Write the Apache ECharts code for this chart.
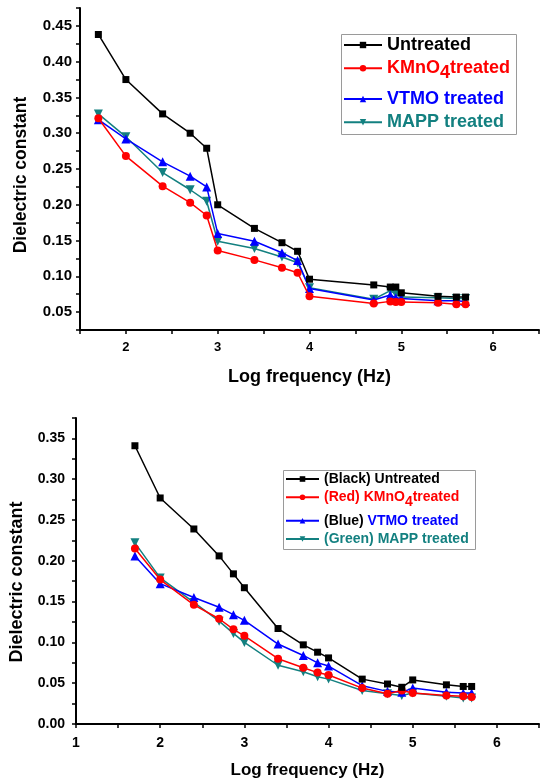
<!DOCTYPE html>
<html>
<head>
<meta charset="utf-8">
<script src="https://cdn.jsdelivr.net/npm/echarts@6/dist/echarts.min.js"></script>
<style>
html,body{margin:0;padding:0;background:#fff;}
#chart{width:542px;height:783px;}
</style>
</head>
<body>
<div id="chart"></div>
<script>
// ---------- DATA ----------
const freqTop = [1.7, 2, 2.4, 2.7, 2.88, 3, 3.4, 3.7, 3.87, 4, 4.7, 4.88, 4.94, 5, 5.4, 5.6, 5.7];
const untreatedTop = [0.438, 0.375, 0.327, 0.300, 0.279, 0.200, 0.167, 0.147, 0.135, 0.096, 0.088, 0.085, 0.085, 0.077, 0.072, 0.071, 0.071];
const kmno4Top = [0.321, 0.268, 0.226, 0.203, 0.185, 0.136, 0.123, 0.112, 0.105, 0.072, 0.062, 0.065, 0.064, 0.064, 0.063, 0.061, 0.061];
const vtmoTop = [0.319, 0.292, 0.260, 0.240, 0.225, 0.160, 0.149, 0.133, 0.122, 0.083, 0.067, 0.074, 0.070, 0.069, 0.066, 0.066, 0.065];
const mappTop = [0.327, 0.295, 0.245, 0.221, 0.205, 0.149, 0.139, 0.127, 0.119, 0.084, 0.068, 0.080, 0.075, 0.071, 0.070, 0.069, 0.069];

const freqBot = [1.7, 2, 2.4, 2.7, 2.87, 3, 3.4, 3.7, 3.87, 4, 4.4, 4.7, 4.87, 5, 5.4, 5.6, 5.7];
const untreatedBot = [0.341, 0.277, 0.239, 0.206, 0.184, 0.167, 0.117, 0.097, 0.088, 0.081, 0.055, 0.049, 0.045, 0.054, 0.048, 0.046, 0.046];
const kmno4Bot = [0.215, 0.177, 0.146, 0.129, 0.116, 0.108, 0.080, 0.069, 0.063, 0.060, 0.044, 0.037, 0.041, 0.038, 0.035, 0.034, 0.033];
const vtmoBot = [0.206, 0.172, 0.155, 0.143, 0.134, 0.127, 0.098, 0.084, 0.075, 0.071, 0.047, 0.040, 0.039, 0.044, 0.039, 0.038, 0.038];
const mappBot = [0.222, 0.179, 0.149, 0.126, 0.111, 0.100, 0.072, 0.064, 0.058, 0.055, 0.041, 0.037, 0.035, 0.038, 0.034, 0.032, 0.032];

const xTicksTop = [2, 3, 4, 5, 6];
const yTicksTop = [0.05, 0.10, 0.15, 0.20, 0.25, 0.30, 0.35, 0.40, 0.45];
const xTicksBot = [1, 2, 3, 4, 5, 6];
const yTicksBot = [0.00, 0.05, 0.10, 0.15, 0.20, 0.25, 0.30, 0.35];

const namesTop = ['Untreated', 'KMnO4treated', 'VTMO treated', 'MAPP treated'];
const namesBot = ['(Black) Untreated', '(Red) KMnO4treated', '(Blue) VTMO treated', '(Green) MAPP treated'];
const xTitle = 'Log frequency (Hz)';
const yTitle = 'Dielectric constant';

// ---------- STYLE ----------
const FONT = '"Liberation Sans", Arial, sans-serif';
const BLACK = '#000000', RED = '#ff0000', BLUE = '#0000ff', TEAL = '#138080';
const colors = [BLACK, RED, BLUE, TEAL];
const symbols = ['rect', 'circle', 'triangle', 'triangle'];
const symSizes = [7, 8, 9, 9];
const symRot = [0, 0, 0, 180];

function zip(xs, ys) { return xs.map((x, i) => [x, ys[i]]); }
function tickFmt(list, digits) {
  return function (v) {
    return list.some(t => Math.abs(t - v) < 1e-6) ? v.toFixed(digits) : '';
  };
}

function axisCommon(fs) {
  return {
    axisLine: { show: true, onZero: false, lineStyle: { color: '#000', width: 2 } },
    axisTick: { show: true, inside: false, length: 4, lineStyle: { color: '#000', width: 1.5 } },
    splitLine: { show: false },
    axisLabel: { color: '#000', fontWeight: 'bold', fontFamily: FONT, fontSize: fs },
    nameTextStyle: { color: '#000', fontWeight: 'bold', fontFamily: FONT }
  };
}

function mkAxisX(idx, min, max, ticks, fs, nameFs, margin, gap) {
  const c = axisCommon(fs);
  return Object.assign(c, {
    type: 'value', gridIndex: idx, min: min, max: max, interval: 0.5,
    axisLabel: Object.assign(c.axisLabel, { formatter: tickFmt(ticks, 0), margin: margin }),
    name: xTitle, nameLocation: 'middle', nameGap: gap,
    nameTextStyle: Object.assign(c.nameTextStyle, { fontSize: nameFs })
  });
}
function mkAxisY(idx, min, max, ticks, fs, nameFs, margin, gap, shiftPad) {
  const c = axisCommon(fs);
  return Object.assign(c, {
    type: 'value', gridIndex: idx, min: min, max: max, interval: 0.025,
    axisLabel: Object.assign(c.axisLabel, { formatter: tickFmt(ticks, 2), margin: margin }),
    name: yTitle, nameLocation: 'middle', nameRotate: 90, nameGap: gap,
    nameTextStyle: Object.assign(c.nameTextStyle, { fontSize: nameFs, padding: [0, shiftPad, 0, 0] })
  });
}

const dataTop = [untreatedTop, kmno4Top, vtmoTop, mappTop];
const dataBot = [untreatedBot, kmno4Bot, vtmoBot, mappBot];

const series = [];
function addSeries(names, xs, ys, idx) {
  names.forEach((n, i) => {
    series.push({
      name: n, type: 'line', xAxisIndex: idx, yAxisIndex: idx,
      data: zip(xs, ys[i]),
      symbol: symbols[i], symbolSize: symSizes[i], symbolRotate: symRot[i],
      showSymbol: true, showAllSymbol: true,
      lineStyle: { color: colors[i], width: 1.5 },
      itemStyle: { color: colors[i], borderWidth: 0 },
      emphasis: { disabled: true },
      z: 10 - i
    });
  });
}
addSeries(namesTop, freqTop, dataTop, 0);
addSeries(namesBot, freqBot, dataBot, 1);

// legend label rich text
const legendText = {
  'Untreated': '{k|Untreated}',
  'KMnO4treated': '{r|KMnO}{rs|4}{r|treated}',
  'VTMO treated': '{b|VTMO treated}',
  'MAPP treated': '{t|MAPP treated}',
  '(Black) Untreated': '{k|(Black) Untreated}',
  '(Red) KMnO4treated': '{r|(Red) KMnO}{rs|4}{r|treated}',
  '(Blue) VTMO treated': '{k|(Blue)}{b| VTMO treated}',
  '(Green) MAPP treated': '{t|(Green) MAPP treated}'
};
function richSet(fs, lh, subPad) {
  const base = { fontSize: fs, fontWeight: 'bold', fontFamily: FONT, lineHeight: lh, verticalAlign: 'middle' };
  return {
    k: Object.assign({}, base, { color: BLACK }),
    r: Object.assign({}, base, { color: RED }),
    rs: Object.assign({}, base, { color: RED, padding: [subPad, 0, 0, 0] }),
    b: Object.assign({}, base, { color: BLUE }),
    t: Object.assign({}, base, { color: TEAL })
  };
}

const legends = [];
const topCenters = [45, 68.3, 99, 122.3];
const botCenters = [479, 497.3, 520.7, 539];
namesTop.forEach((n, i) => {
  const sub = n.indexOf('KMnO') >= 0;
  legends.push({
    data: [n], left: 343, top: sub ? topCenters[i] - 13.5 : topCenters[i] - 9,
    orient: 'vertical', padding: 0, itemGap: 0, itemWidth: 38, itemHeight: 8,
    selectedMode: false,
    formatter: name => legendText[name],
    textStyle: { fontSize: 18, fontWeight: 'bold', fontFamily: FONT, lineHeight: 18, rich: richSet(18, 18, 9) }
  });
});
namesBot.forEach((n, i) => {
  const sub = n.indexOf('KMnO') >= 0;
  legends.push({
    data: [n], left: 285, top: sub ? botCenters[i] - 12 : botCenters[i] - 7,
    orient: 'vertical', padding: 0, itemGap: 0, itemWidth: 33, itemHeight: 7,
    selectedMode: false,
    formatter: name => legendText[name],
    textStyle: { fontSize: 14, fontWeight: 'bold', fontFamily: FONT, lineHeight: 14, rich: richSet(14, 14, 10) }
  });
});

const option = {
  animation: false,
  backgroundColor: '#ffffff',
  grid: [
    { left: 80, top: 8, right: 1, height: 322 },
    { left: 72, top: 418, right: 1, height: 306 }
  ],
  xAxis: [
    mkAxisX(0, 1.5, 6.5, xTicksTop, 13, 18, 11, 38),
    mkAxisX(1, 1, 6.5, xTicksBot, 14, 17, 12, 38)
  ],
  yAxis: [
    mkAxisY(0, 0.025, 0.475, yTicksTop, 15, 17.5, 8, 50, 12),
    mkAxisY(1, 0, 0.375, yTicksBot, 14, 18, 11, 50, 22)
  ],
  legend: legends,
  graphic: [
    { type: 'rect', left: 339, top: 32, shape: { width: 175, height: 100 }, style: { fill: 'none', stroke: '#9a9a9a', lineWidth: 1 }, z: 100 },
    { type: 'rect', left: 281, top: 468, shape: { width: 192, height: 79 }, style: { fill: 'none', stroke: '#9a9a9a', lineWidth: 1 }, z: 100 }
  ],
  series: series
};

const chart = echarts.init(document.getElementById('chart'), null, { renderer: 'canvas' });
chart.setOption(option);
</script>
</body>
</html>
